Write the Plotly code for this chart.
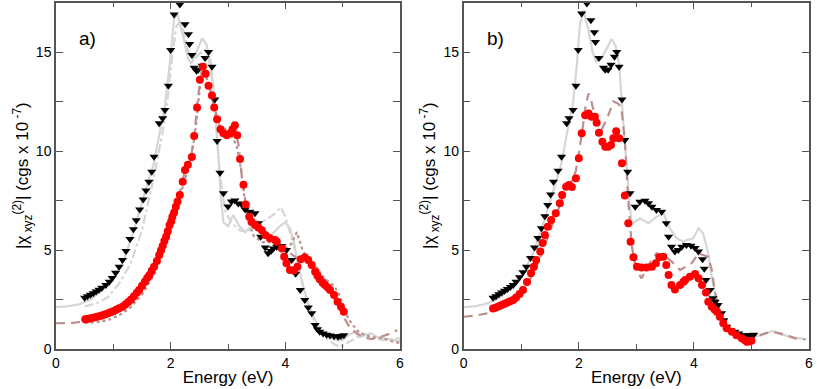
import plotly.graph_objects as go

# ---- panel a) ----
a_tri_e = [0.50, 0.55, 0.60, 0.65, 0.70, 0.75, 0.80, 0.87, 0.93, 0.98, 1.04, 1.10, 1.16, 1.22, 1.29, 1.35,
           1.40, 1.46, 1.52, 1.57, 1.62, 1.67, 1.71, 1.80, 1.86, 1.90, 1.96, 2.00, 2.06, 2.16, 2.25, 2.31,
           2.33, 2.37, 2.41, 2.45, 2.48, 2.55, 2.60, 2.66, 2.72, 2.77, 2.81, 2.86, 2.92, 3.00, 3.06, 3.12,
           3.18, 3.24, 3.30, 3.38, 3.47, 3.53, 3.57, 3.65, 3.70, 3.75, 3.79, 3.85, 3.94, 4.02, 4.11, 4.18,
           4.26, 4.34, 4.40, 4.46, 4.52, 4.56, 4.60, 4.66, 4.72, 4.78, 4.85, 4.92, 4.97, 5.02]
a_tri_y = [2.59, 2.66, 2.74, 2.82, 2.90, 2.99, 3.09, 3.23, 3.40, 3.58, 3.85, 4.16, 4.50, 4.95, 5.56, 6.05,
           6.50, 7.05, 7.55, 8.00, 8.45, 8.95, 9.71, 11.4, 11.65, 12.07, 13.3, 15.1, 16.9, 17.4, 16.4, 15.9,
           15.4, 14.85, 14.2, 14.05, 14.1, 14.3, 14.7, 15.0, 14.25, 12.6, 10.5, 8.9, 7.86, 7.2, 7.45, 7.5,
           7.35, 7.3, 7.05, 6.93, 6.85, 6.35, 5.67, 5.13, 4.83, 4.95, 5.08, 5.17, 5.2, 5.0, 4.5, 3.8,
           2.98, 2.47, 2.1, 1.8, 1.21, 1.0, 0.87, 0.78, 0.72, 0.68, 0.64, 0.62, 0.66, 0.70]

a_dot_e = [0.51, 0.55, 0.60, 0.65, 0.70, 0.75, 0.80, 0.85, 0.90, 0.95, 1.00, 1.05, 1.10, 1.16, 1.21, 1.26,
           1.31, 1.36, 1.41, 1.45, 1.50, 1.55, 1.59, 1.63, 1.67, 1.71, 1.76, 1.80, 1.83, 1.86, 1.89, 1.92,
           1.95, 1.98, 2.01, 2.03, 2.06, 2.09, 2.12, 2.16, 2.21, 2.25, 2.30, 2.37, 2.41, 2.46, 2.51, 2.56,
           2.61, 2.66, 2.72, 2.76, 2.81, 2.87, 2.92, 2.98, 3.04, 3.08, 3.12, 3.16, 3.21, 3.27, 3.31, 3.37,
           3.41, 3.47, 3.53, 3.59, 3.65, 3.73, 3.82, 3.85, 3.94, 3.98, 4.02, 4.08, 4.15, 4.21, 4.27, 4.34,
           4.40, 4.46, 4.52, 4.56, 4.60, 4.65, 4.69, 4.74, 4.78, 4.85, 4.91, 4.97, 5.02]
a_dot_y = [1.50, 1.52, 1.55, 1.58, 1.61, 1.65, 1.69, 1.74, 1.79, 1.85, 1.91, 1.98, 2.06, 2.14, 2.25, 2.37,
           2.50, 2.66, 2.84, 2.98, 3.20, 3.40, 3.58, 3.74, 3.95, 4.16, 4.45, 4.75, 4.98, 5.20, 5.45, 5.67,
           5.95, 6.26, 6.45, 6.68, 6.90, 7.18, 7.45, 7.78, 8.45, 9.04, 9.30, 9.70, 10.76, 12.2, 13.6, 14.26,
           13.9, 13.3, 12.8, 12.2, 11.6, 11.1, 10.9, 10.8, 10.9, 11.1, 11.3, 10.8, 9.6, 8.3, 7.3, 6.68,
           6.43, 6.26, 6.14, 6.0, 5.76, 5.59, 5.5, 5.42, 5.08, 4.66, 4.33, 3.99, 3.96, 4.16, 4.53, 4.63,
           4.5, 4.24, 3.9, 3.7, 3.52, 3.35, 3.23, 3.1, 2.98, 2.73, 2.39, 2.14, 1.88]

a_solid_e = [0.0, 0.2, 0.4, 0.6, 0.8, 1.0, 1.2, 1.4, 1.6, 1.7, 1.8, 1.9, 2.0, 2.06, 2.12, 2.2, 2.3, 2.36,
             2.45, 2.55, 2.62, 2.7, 2.78, 2.84, 2.88, 2.92, 3.0, 3.09, 3.2, 3.3, 3.4, 3.5, 3.6, 3.7, 3.8,
             3.9, 4.0, 4.08, 4.15, 4.22, 4.3, 4.4, 4.5, 4.6, 4.7, 4.8, 4.9, 5.0, 5.1, 5.2, 5.3, 5.4, 5.5,
             5.6, 5.7, 5.8, 5.9, 6.0]
a_solid_y = [2.12, 2.15, 2.25, 2.5, 2.95, 3.55, 4.6, 6.4, 8.4, 9.3, 10.8, 12.3, 14.8, 16.7, 16.9, 16.0,
             14.7, 14.4, 15.0, 15.7, 15.4, 14.5, 12.0, 9.0, 7.5, 6.4, 6.2, 6.76, 6.2, 5.9, 6.2, 6.5, 6.0,
             5.6, 5.9, 6.2, 6.4, 6.1, 5.4, 4.3, 3.3, 2.3, 1.6, 1.0, 0.7, 0.55, 0.45, 0.45, 0.7, 0.85, 0.6,
             0.7, 0.8, 0.6, 0.55, 0.5, 0.45, 0.4]

a_dashdot_e = [0.5, 0.7, 0.9, 1.1, 1.3, 1.5, 1.7, 1.85, 1.95, 2.02, 2.1, 2.18, 2.3, 2.4, 2.5, 2.6, 2.7,
               2.78, 2.86, 2.95, 3.05, 3.2, 3.35, 3.5, 3.65, 3.8, 3.92, 4.0, 4.08, 4.15, 4.25, 4.35, 4.45,
               4.55, 4.7, 4.85, 4.95, 5.05, 5.2, 5.35, 5.5, 5.7, 5.9, 6.0]
a_dashdot_y = [2.15, 2.3, 2.6, 3.3, 4.3, 6.0, 8.6, 10.8, 12.7, 14.6, 16.3, 16.6, 15.1, 14.6, 14.9, 15.1,
               14.2, 11.8, 8.8, 7.0, 6.4, 6.0, 5.9, 6.4, 6.5, 6.8, 7.15, 6.7, 5.9, 5.2, 3.9, 2.7, 1.8,
               1.1, 0.6, 0.25, 0.1, 0.25, 0.5, 0.8, 0.6, 0.45, 0.5, 0.55]

a_dash_e = [0.0, 0.3, 0.5, 0.7, 0.9, 1.1, 1.3, 1.5, 1.7, 1.85, 2.0, 2.15, 2.25, 2.35, 2.42, 2.48, 2.55,
            2.6, 2.7, 2.8, 2.9, 3.0, 3.1, 3.18, 3.25, 3.32, 3.45, 3.6, 3.75, 3.9, 4.05, 4.2, 4.35, 4.5,
            4.65, 4.8, 4.92, 5.02, 5.1, 5.2, 5.35, 5.5, 5.65, 5.8, 5.95]
a_dash_y = [1.3, 1.32, 1.4, 1.5, 1.7, 2.0, 2.45, 3.2, 4.1, 5.1, 6.3, 7.8, 9.0, 9.6, 11.0, 12.8, 14.2,
            14.0, 13.0, 11.6, 11.0, 11.2, 11.3, 10.4, 8.5, 7.2, 6.4, 6.1, 5.7, 5.3, 4.9, 4.6, 4.6, 4.3,
            3.7, 3.0, 2.2, 1.6, 1.2, 0.9, 0.6, 0.5, 0.6, 0.75, 0.95]

a_dotline_e = [0.5, 0.7, 0.9, 1.1, 1.3, 1.5, 1.7, 1.85, 2.0, 2.15, 2.25, 2.35, 2.45, 2.52, 2.58, 2.65,
               2.75, 2.85, 2.95, 3.05, 3.15, 3.22, 3.28, 3.35, 3.45, 3.6, 3.75, 3.9, 4.0, 4.1, 4.2, 4.3,
               4.45, 4.6, 4.75, 4.85, 4.95, 5.05, 5.15, 5.3, 5.5, 5.7, 5.85, 6.0]
a_dotline_y = [1.3, 1.35, 1.45, 1.7, 2.1, 2.75, 3.7, 4.7, 6.0, 7.5, 8.6, 9.4, 11.5, 13.5, 14.0, 13.5,
               12.4, 11.3, 10.9, 10.8, 10.3, 9.2, 7.8, 6.5, 5.7, 5.4, 5.4, 5.2, 5.1, 5.3, 5.9, 5.0,
               4.3, 3.8, 3.4, 3.2, 2.7, 1.8, 1.3, 0.8, 0.6, 0.55, 0.4, 0.3]

# ---- panel b) ----
b_tri_e = [0.51, 0.56, 0.61, 0.66, 0.71, 0.76, 0.81, 0.86, 0.91, 0.97, 1.03, 1.09, 1.16, 1.23, 1.29, 1.35,
           1.41, 1.46, 1.51, 1.56, 1.64, 1.70, 1.79, 1.83, 1.90, 1.95, 1.99, 2.05, 2.14, 2.21, 2.27, 2.29,
           2.35, 2.43, 2.46, 2.51, 2.56, 2.62, 2.66, 2.70, 2.75, 2.80, 2.85, 2.89, 2.98, 3.06, 3.15, 3.21,
           3.27, 3.35, 3.44, 3.52, 3.56, 3.61, 3.67, 3.73, 3.79, 3.87, 3.95, 4.02, 4.08, 4.15, 4.18, 4.21,
           4.28, 4.33, 4.37, 4.42, 4.48, 4.52, 4.57, 4.64, 4.71, 4.78, 4.86, 4.92, 4.98, 5.04]
b_tri_y = [2.59, 2.67, 2.76, 2.85, 2.94, 3.03, 3.13, 3.23, 3.40, 3.63, 3.88, 4.16, 4.60, 5.13, 5.60, 6.10,
           6.70, 7.27, 7.80, 8.45, 9.0, 9.71, 11.4, 11.65, 12.07, 13.3, 15.1, 16.95, 17.45, 16.6, 16.0, 15.5,
           14.7, 14.2, 14.1, 14.1, 14.35, 14.76, 15.0, 14.26, 12.6, 10.55, 8.95, 7.86, 7.19, 7.44, 7.49, 7.36,
           7.19, 7.02, 6.93, 6.35, 5.67, 5.17, 4.92, 5.0, 5.17, 5.25, 5.22, 5.1, 4.92, 4.53, 4.05, 3.48,
           2.98, 2.56, 2.39, 2.22, 1.8, 1.45, 1.13, 0.95, 0.87, 0.78, 0.70, 0.68, 0.70, 0.72]

b_dot_e = [0.51, 0.56, 0.61, 0.66, 0.71, 0.76, 0.81, 0.86, 0.91, 0.97, 1.03, 1.10, 1.17, 1.22, 1.26, 1.33,
           1.37, 1.41, 1.46, 1.52, 1.60, 1.67, 1.71, 1.78, 1.83, 1.88, 1.95, 2.00, 2.05, 2.11, 2.17, 2.22,
           2.28, 2.31, 2.35, 2.41, 2.46, 2.51, 2.56, 2.60, 2.65, 2.70, 2.75, 2.80, 2.86, 2.90, 2.95, 3.01,
           3.09, 3.18, 3.27, 3.34, 3.40, 3.47, 3.52, 3.56, 3.61, 3.67, 3.76, 3.82, 3.85, 3.93, 4.02, 4.08,
           4.14, 4.21, 4.25, 4.31, 4.36, 4.40, 4.45, 4.51, 4.57, 4.66, 4.74, 4.83, 4.88, 4.92, 4.96, 5.00]
b_dot_y = [2.05, 2.10, 2.16, 2.22, 2.28, 2.35, 2.41, 2.47, 2.60, 2.78, 2.98, 3.38, 3.82, 4.15, 4.50, 4.92,
           5.35, 5.76, 6.18, 6.52, 6.85, 7.36, 7.78, 8.2, 8.28, 8.18, 8.62, 9.63, 10.9, 11.8, 11.9, 11.73,
           11.73, 11.43, 10.92, 10.47, 10.22, 10.22, 10.3, 10.64, 11.0, 10.64, 9.38, 7.75, 6.35, 5.42, 4.63, 4.16,
           4.12, 4.12, 4.16, 4.33, 4.63, 4.66, 4.24, 3.74, 3.23, 3.01, 3.23, 3.40, 3.48, 3.65, 3.79, 3.57,
           3.23, 2.85, 2.39, 2.14, 2.0, 1.88, 1.63, 1.30, 1.05, 0.87, 0.70, 0.54, 0.45, 0.37, 0.38, 0.42]

b_solid_e = [0.0, 0.2, 0.4, 0.6, 0.8, 1.0, 1.2, 1.4, 1.6, 1.7, 1.8, 1.9, 1.96, 2.02, 2.08, 2.16, 2.24,
             2.3, 2.4, 2.5, 2.57, 2.64, 2.7, 2.76, 2.82, 2.88, 2.92, 3.06, 3.21, 3.35, 3.47, 3.58, 3.70,
             3.82, 3.87, 3.99, 4.08, 4.16, 4.25, 4.31, 4.38, 4.45, 4.52, 4.6, 4.7, 4.8, 4.9, 5.0, 5.1,
             5.25, 5.38, 5.5, 5.7, 5.96]
b_solid_y = [2.12, 2.15, 2.3, 2.55, 3.0, 3.65, 4.8, 6.5, 8.4, 9.4, 11.0, 12.4, 14.2, 16.4, 17.1, 16.2,
             15.0, 14.5, 14.7, 15.3, 15.66, 15.3, 14.4, 12.0, 9.5, 7.4, 6.3, 6.6, 6.35, 6.68, 6.85, 6.1,
             5.59, 5.42, 5.5, 5.59, 6.1, 5.84, 4.83, 3.65, 2.6, 2.0, 1.4, 1.0, 0.8, 0.65, 0.55, 0.6, 0.65,
             0.8, 0.91, 0.75, 0.6, 0.49]

b_dash_e = [0.0, 0.2, 0.4, 0.5, 0.7, 0.9, 1.1, 1.3, 1.5, 1.7, 1.85, 1.95, 2.05, 2.12, 2.17, 2.22, 2.3,
            2.4, 2.5, 2.6, 2.68, 2.74, 2.8, 2.86, 2.92, 3.0, 3.09, 3.2, 3.35, 3.5, 3.62, 3.76, 3.96, 4.08,
            4.25, 4.31, 4.37, 4.45, 4.55, 4.65, 4.75, 4.85, 4.95, 5.09, 5.2, 5.35, 5.5, 5.65, 5.76, 5.93]
b_dash_y = [1.63, 1.68, 1.8, 1.9, 2.1, 2.45, 3.2, 4.4, 6.0, 7.5, 8.3, 9.0, 10.8, 12.3, 12.9, 12.5, 11.5,
            11.1, 11.7, 12.5, 12.4, 12.2, 10.5, 7.5, 5.2, 4.0, 3.57, 4.2, 4.83, 4.7, 4.4, 3.99, 4.33, 4.83,
            4.66, 3.99, 2.81, 1.9, 1.2, 0.9, 0.7, 0.5, 0.42, 0.62, 0.75, 0.87, 0.79, 0.65, 0.54, 0.49]

GRAY = '#d6d6d6'
ROSY = '#bc8f8f'
FONT = 'Liberation Sans, Arial, sans-serif'

fig = go.Figure()


def add_line(x, y, ax, color, dash):
  fig.add_trace(go.Scatter(x=x, y=y, mode='lines', xaxis=ax[0], yaxis=ax[1],
                           line={'color': color, 'width': 2.2, 'dash': dash}, showlegend=False))


def add_marks(x, y, ax, symbol, color, size):
  fig.add_trace(go.Scatter(x=x, y=y, mode='markers', xaxis=ax[0], yaxis=ax[1],
                           marker={'symbol': symbol, 'color': color, 'size': size, 'line': {'width': 0}},
                           showlegend=False))


pa = ('x', 'y')
add_line(a_solid_e, a_solid_y, pa, GRAY, 'solid')
add_line(a_dashdot_e, a_dashdot_y, pa, GRAY, 'dashdot')
add_line(a_dash_e, a_dash_y, pa, ROSY, '9px,6px')
add_line(a_dotline_e, a_dotline_y, pa, ROSY, 'dot')
add_marks(a_tri_e, a_tri_y, pa, 'triangle-down', 'black', 8)
add_marks(a_dot_e, a_dot_y, pa, 'circle', '#ff0000', 8)

pb = ('x2', 'y2')
add_line(b_solid_e, b_solid_y, pb, GRAY, 'solid')
add_line(b_dash_e, b_dash_y, pb, ROSY, '9px,6px')
add_marks(b_tri_e, b_tri_y, pb, 'triangle-down', 'black', 8)
add_marks(b_dot_e, b_dot_y, pb, 'circle', '#ff0000', 8)

W, H = 817, 389
xa = dict(range=[0, 6], tickvals=[0, 2, 4, 6], ticks='inside', ticklen=7, tickcolor='#555',
          showline=True, linecolor='#555', linewidth=1.5, mirror='allticks', showgrid=False, zeroline=False,
          automargin=False,
          minor=dict(dtick=1, ticks='inside', ticklen=5, tickcolor='#555'),
          tickfont=dict(size=14, color='black'),
          title=dict(text='Energy (eV)', font=dict(size=17, color='black'), standoff=2))
ya = dict(range=[0, 17.5], tickvals=[0, 5, 10, 15], ticks='inside', ticklen=7, tickcolor='#555',
          showline=True, linecolor='#555', linewidth=1.5, mirror='allticks', showgrid=False, zeroline=False,
          automargin=False,
          minor=dict(dtick=2.5, ticks='inside', ticklen=7, tickcolor='#555'),
          tickfont=dict(size=14, color='black'))

ydom = [(H - 349) / H, (H - 2.5) / H]
fig.update_layout(
  width=W, height=H, template='none', plot_bgcolor='white', paper_bgcolor='white',
  margin=dict(l=0, r=0, t=0, b=0, autoexpand=False), font=dict(family=FONT, color='black'),
  xaxis=dict(xa, domain=[56 / W, 400 / W], anchor='y'),
  yaxis=dict(ya, domain=ydom, anchor='x'),
  xaxis2=dict(xa, domain=[463.7 / W, 809 / W], anchor='y2'),
  yaxis2=dict(ya, domain=ydom, anchor='x2'),
)

ylab = '|χ<sub> xyz</sub><sup>(2)</sup>| (cgs x 10<sup> -7</sup>)'
for xpix in (22, 429):
  fig.add_annotation(text=ylab, xref='paper', yref='paper', x=xpix / W, y=(H - 176) / H,
                     textangle=-90, showarrow=False, font=dict(size=17, color='black'),
                     xanchor='center', yanchor='middle')

fig.add_annotation(text='a)', xref='x', yref='y', x=0.55, y=15.7, showarrow=False,
                   font=dict(size=19, color='black'), xanchor='center')
fig.add_annotation(text='b)', xref='x2', yref='y2', x=0.55, y=15.7, showarrow=False,
                   font=dict(size=19, color='black'), xanchor='center')

# the page has a default 8px body margin; drop it so the figure sits at the corner
fig.write_html('out.html', config={'displayModeBar': False},
               post_script="document.body.style.margin='0';")
